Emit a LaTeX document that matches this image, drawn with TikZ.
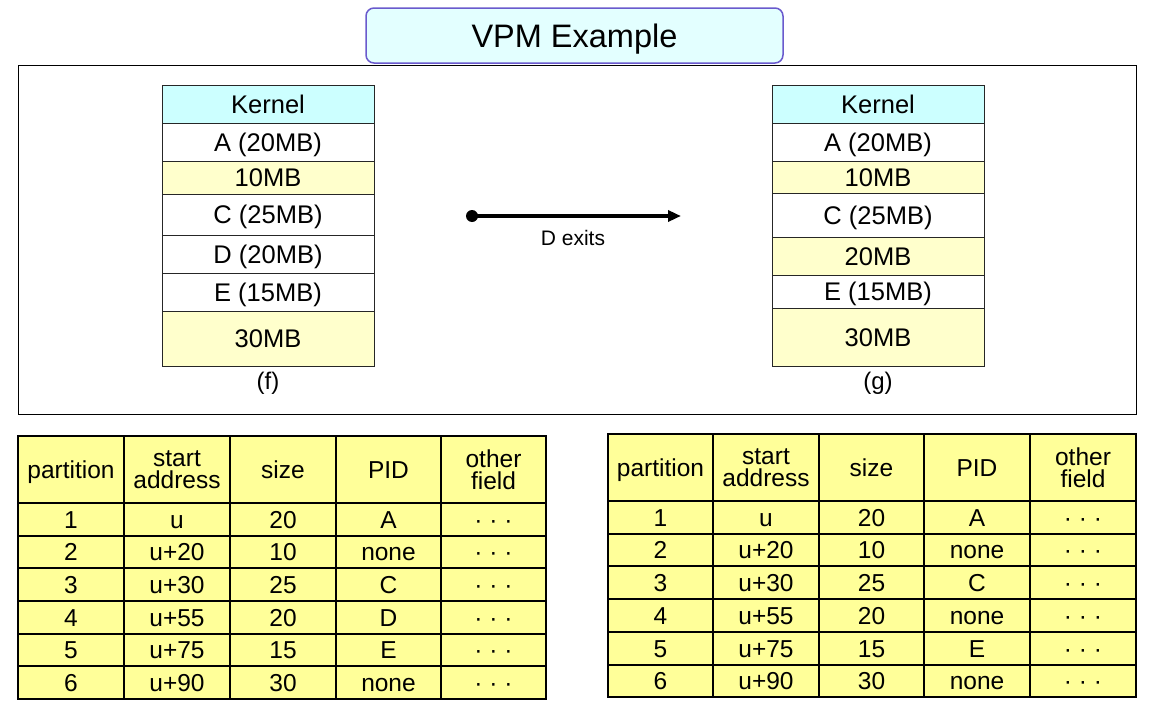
\documentclass[tikz,border=0pt]{standalone}
\usepackage{fontspec}
\setmainfont{Liberation Sans}
\usetikzlibrary{arrows.meta}
\definecolor{titlefill}{HTML}{E3FFFF}
\definecolor{titledraw}{HTML}{6A5ACD}
\definecolor{kernfill}{HTML}{CCFFFF}
\definecolor{freefill}{HTML}{FFFFCC}
\definecolor{tabfill}{HTML}{FFFF99}
\newcommand\mcell[7]{%
  \node[memcell, fill=#6, minimum width={(#4-(#2))*1pt}, minimum height={(#5-(#3))*1pt}] (#1) at ({(#2+#4)/2},{(#3+#5)/2}) {#7};}
\newcommand\tcellnode[7]{%
  \node[#1, minimum width={(#5-(#3))*1pt}, minimum height={(#6-(#4))*1pt}] (#2) at ({(#3+#5)/2},{(#4+#6)/2}) {#7};}
\newcommand\trow[9]{%
  \tcellnode{tcell}{#1#2c1}{\xA}{#3}{\xB}{#4}{#5}%
  \tcellnode{tcell}{#1#2c2}{\xB}{#3}{\xC}{#4}{#6}%
  \tcellnode{tcell}{#1#2c3}{\xC}{#3}{\xD}{#4}{#7}%
  \tcellnode{tcell}{#1#2c4}{\xD}{#3}{\xE}{#4}{#8}%
  \tcellnode{tcell}{#1#2c5}{\xE}{#3}{\xF}{#4}{#9}}
\begin{document}
\begin{tikzpicture}[x=1pt,y=-1pt,
  memcell/.style={draw=black!85, line width=1pt, inner sep=0pt, outer sep=0pt,
    font=\fontsize{25.5}{28}\selectfont, text height=18.3pt, text depth=0pt},
  tcell/.style={draw=black, line width=1.4pt, fill=tabfill, inner sep=0pt, outer sep=0pt,
    font=\fontsize{24.5}{22}\selectfont, text height=17.6pt, text depth=0pt},
  thead/.style={draw=black, line width=1.4pt, fill=tabfill, inner sep=0pt, outer sep=0pt,
    font=\fontsize{24.5}{22.5}\selectfont, align=center},
  caption/.style={font=\fontsize{24}{28}\selectfont, inner sep=0pt},
  frame/.style={draw=black, line width=1pt},
  titlebox/.style={draw=titledraw, line width=1.5pt, fill=titlefill, rounded corners=8pt,
    inner sep=0pt, font=\fontsize{32.5}{36}\selectfont},
  arrowline/.style={line width=3.4pt, -{Triangle[length=13pt,width=11pt]}}]
\useasboundingbox (0,0) rectangle (1153,712);
% frame
\draw[frame] (18,65) rectangle (1136,414);
% title
\node[titlebox, minimum width=417pt, minimum height=55pt, text height=23pt, text depth=0pt] (title) at (574.5,35.5) {VPM Example};
% left memory (f)
\mcell{fk}{162}{85}{374}{123}{kernfill}{Kernel}
\mcell{fa}{162}{123}{374}{161}{white}{A (20MB)}
\mcell{fh1}{162}{161}{374}{194}{freefill}{10MB}
\mcell{fc}{162}{194}{374}{235}{white}{C (25MB)}
\mcell{fd}{162}{235}{374}{273}{white}{D (20MB)}
\mcell{fe}{162}{273}{374}{311}{white}{E (15MB)}
\mcell{fh2}{162}{311}{374}{366}{freefill}{30MB}
\node[caption, anchor=north] (flabel) at (268,372) {(f)};
% right memory (g)
\mcell{gk}{772}{85}{984}{123}{kernfill}{Kernel}
\mcell{ga}{772}{123}{984}{161}{white}{A (20MB)}
\mcell{gh1}{772}{161}{984}{193}{freefill}{10MB}
\mcell{gc}{772}{193}{984}{237}{white}{C (25MB)}
\mcell{gh3}{772}{237}{984}{275}{freefill}{20MB}
\mcell{ge}{772}{275}{984}{308}{white}{E (15MB)}
\mcell{gh2}{772}{308}{984}{366}{freefill}{30MB}
\node[caption, anchor=north] (glabel) at (878,372) {(g)};
% transition arrow
\node[circle, fill=black, inner sep=0pt, minimum size=12pt] (dot) at (472,216) {};
\coordinate (aend) at (681,216);
\draw[arrowline] (dot.center) -- (aend);
\node[font=\fontsize{21}{24}\selectfont, inner sep=0pt] (dexits) at (573,238) {D exits};
% left table
\def\xA{18}\def\xB{124}\def\xC{230}\def\xD{336}\def\xE{441}\def\xF{546}
\tcellnode{tcell}{lh1}{\xA}{436}{\xB}{503}{partition}
\tcellnode{thead}{lh2}{\xB}{436}{\xC}{503}{start\\address}
\tcellnode{tcell}{lh3}{\xC}{436}{\xD}{503}{size}
\tcellnode{tcell}{lh4}{\xD}{436}{\xE}{503}{PID}
\tcellnode{thead}{lh5}{\xE}{436}{\xF}{503}{other\\field}
\trow{l}{1}{503}{536}{1}{u}{20}{A}{· · ·}
\trow{l}{2}{536}{568}{2}{u+20}{10}{none}{· · ·}
\trow{l}{3}{568}{601}{3}{u+30}{25}{C}{· · ·}
\trow{l}{4}{601}{634}{4}{u+55}{20}{D}{· · ·}
\trow{l}{5}{634}{666}{5}{u+75}{15}{E}{· · ·}
\trow{l}{6}{666}{699}{6}{u+90}{30}{none}{· · ·}
% right table
\def\xA{608}\def\xB{713}\def\xC{819}\def\xD{924}\def\xE{1030}\def\xF{1136}
\tcellnode{tcell}{rh1}{\xA}{434}{\xB}{501}{partition}
\tcellnode{thead}{rh2}{\xB}{434}{\xC}{501}{start\\address}
\tcellnode{tcell}{rh3}{\xC}{434}{\xD}{501}{size}
\tcellnode{tcell}{rh4}{\xD}{434}{\xE}{501}{PID}
\tcellnode{thead}{rh5}{\xE}{434}{\xF}{501}{other\\field}
\trow{r}{1}{501}{534}{1}{u}{20}{A}{· · ·}
\trow{r}{2}{534}{566}{2}{u+20}{10}{none}{· · ·}
\trow{r}{3}{566}{599}{3}{u+30}{25}{C}{· · ·}
\trow{r}{4}{599}{632}{4}{u+55}{20}{none}{· · ·}
\trow{r}{5}{632}{665}{5}{u+75}{15}{E}{· · ·}
\trow{r}{6}{665}{697}{6}{u+90}{30}{none}{· · ·}
\end{tikzpicture}
\end{document}
